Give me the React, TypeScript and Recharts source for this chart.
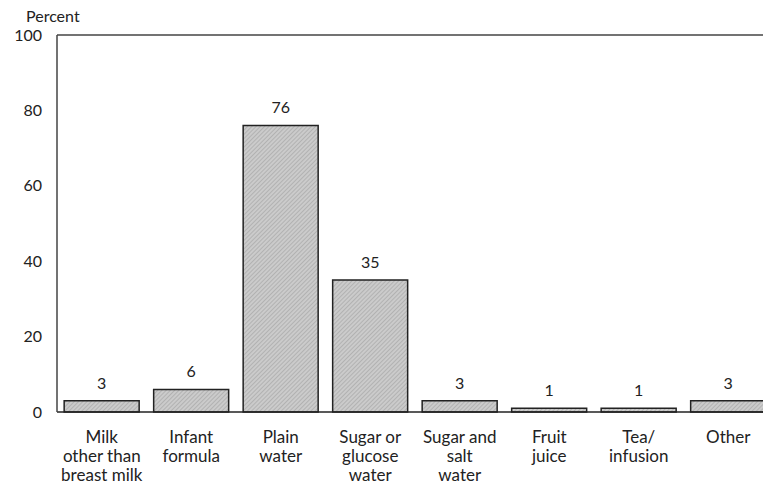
import React from "react";
import { BarChart, Bar, XAxis, YAxis, LabelList, ReferenceLine } from "recharts";

const categories = [
  "Milk\nother than\nbreast milk",
  "Infant\nformula",
  "Plain\nwater",
  "Sugar or\nglucose\nwater",
  "Sugar and\nsalt\nwater",
  "Fruit\njuice",
  "Tea/\ninfusion",
  "Other",
];
const values = [3, 6, 76, 35, 3, 1, 1, 3];
const yTicks = [0, 20, 40, 60, 80, 100];

const data = categories.map((c, i) => ({ name: c, value: values[i] }));

const labelFont = "Lato, 'Open Sans', sans-serif";
const numFont = "Lato, 'Open Sans', sans-serif";

const XTick = (props: any) => {
  const { x, y, payload } = props;
  const lines = String(payload.value).split("\n");
  return (
    <g>
      {lines.map((l: string, i: number) => (
        <text
          key={i}
          x={x}
          y={y + 23 + i * 19}
          textAnchor="middle"
          fontFamily={labelFont}
          fontSize={17}
          fill="#222"
        >
          {l}
        </text>
      ))}
    </g>
  );
};

export default function App() {
  return (
    <div style={{ position: "absolute", left: 0, top: 0, width: 763, height: 485, overflow: "hidden", background: "#fff" }}>
      <BarChart
        width={800}
        height={485}
        data={data}
        margin={{ top: 35, right: 27, bottom: 0, left: 0 }}
        barCategoryGap="8%"
      >
        <defs>
          <pattern id="hatch" patternUnits="userSpaceOnUse" width="3" height="3" patternTransform="rotate(45)">
            <rect width="3" height="3" fill="#cbcbcb" />
            <line x1="0" y1="0" x2="0" y2="3" stroke="#9a9a9a" strokeWidth="1" />
          </pattern>
        </defs>
        <XAxis
          dataKey="name"
          interval={0}
          tickLine={false}
          axisLine={{ stroke: "#222", strokeWidth: 1.5 }}
          tick={<XTick />}
          height={73}
        />
        <YAxis
          domain={[0, 100]}
          ticks={yTicks}
          width={57}
          tickLine={false}
          axisLine={{ stroke: "#444", strokeWidth: 1.5 }}
          tickMargin={9}
          tick={{ fontFamily: numFont, fontSize: 16, fill: "#222" }}
          label={{
            value: "Percent",
            position: "insideTopLeft",
            offset: 0,
            dx: 26,
            dy: -24,
            style: { fontFamily: labelFont, fontSize: 16, fill: "#222" },
          }}
        />
        <ReferenceLine y={100} stroke="#444" strokeWidth={1.5} />
        <Bar dataKey="value" fill="url(#hatch)" stroke="#222" strokeWidth={1.5} isAnimationActive={false}>
          <LabelList
            dataKey="value"
            position="top"
            offset={12}
            style={{ fontFamily: numFont, fontSize: 16, fill: "#222" }}
          />
        </Bar>
      </BarChart>
    </div>
  );
}
